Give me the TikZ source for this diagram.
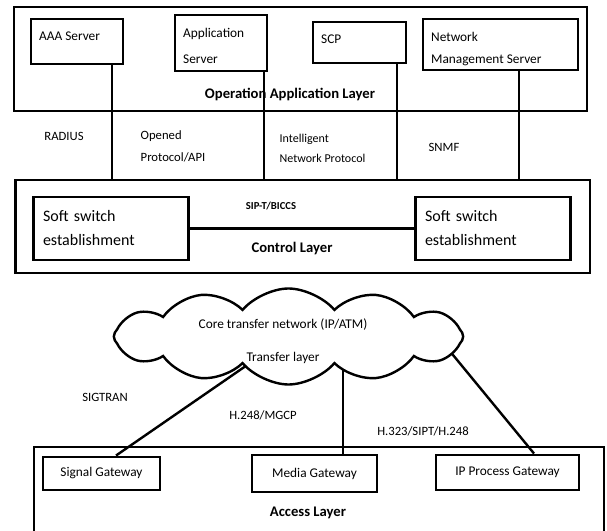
\documentclass[tikz,border=0pt]{standalone}
\usepackage{fontspec}
\setmainfont{Carlito}
\usetikzlibrary{shapes.symbols,backgrounds}
\begin{document}
\begin{tikzpicture}[x=0.75pt,y=-0.75pt,
	layerbox/.style={shape=rectangle,draw,line width=1.6pt,inner sep=0pt},
	srvbox/.style={shape=rectangle,draw,line width=2.2pt,inner sep=0pt},
	srvtext/.style={anchor=north west,inner xsep=7pt,inner ysep=10.5pt,align=left,font=\fontsize{10}{20}\selectfont},
	swbox/.style={srvbox,minimum width=115.5pt,minimum height=47.25pt,text width=102pt,inner xsep=7pt,align=left,font=\fontsize{12}{18}\selectfont},
	gwbox/.style={srvbox,font=\fontsize{10}{12}\selectfont},
	lyrtext/.style={font=\bfseries\fontsize{11}{13}\selectfont},
	prottext/.style={align=left,font=\fontsize{9.5}{16}\selectfont},
	conn/.style={line width=1.8pt}]
	\useasboundingbox (0,0) rectangle (607,531);
	\node[layerbox,minimum width=429.75pt,minimum height=78pt](op) at (300.5,59){};
	\node[srvbox,minimum width=69pt,minimum height=33.75pt,label={[srvtext]north west:AAA Server}](aaa) at (77,41.5){};
	\node[srvbox,minimum width=69pt,minimum height=42pt,label={[srvtext]north west:Application\\Server}](app) at (221,43){};
	\node[srvbox,minimum width=69.75pt,minimum height=30.75pt,label={[srvtext]north west:SCP}](scp) at (359.5,42.5){};
	\node[srvbox,minimum width=116.25pt,minimum height=38.25pt,label={[srvtext,font=\fontsize{10}{17}\selectfont]north west:Network\\Management Server}](nms) at (500.5,44.5){};
	\node[lyrtext](optext) at (290,94){Operation Application Layer};
	\node[layerbox,minimum width=430.9pt,minimum height=69.75pt](ctrl) at (302.75,226.5){};
	\node[swbox](ss1) at (111,228.5){Soft switch\\establishment};
	\node[swbox](ss2) at (493,228.5){Soft switch\\establishment};
	\node[lyrtext,font=\bfseries\fontsize{8}{10}\selectfont](sip) at (271,206){SIP-T/BICCS};
	\node[lyrtext](ctrltext) at (292,249){Control Layer};
	\node[prottext](radius) at (64,136){RADIUS};
	\node[prottext,anchor=west](api) at (136,146.5){Opened\\Protocol/API};
	\node[prottext,anchor=west,font=\fontsize{9}{15}\selectfont](inp) at (275,148){Intelligent\\Network Protocol};
	\node[prottext](snmf) at (444,147){SNMF};
	\draw[conn] ([xshift=26.25pt]aaa.south) -- ([xshift=26.25pt]aaa.south |- ctrl.north);
	\draw[conn] ([xshift=32.25pt]app.south) -- ([xshift=32.25pt]app.south |- ctrl.north);
	\draw[conn] ([xshift=28.1pt]scp.south) -- ([xshift=28.1pt]scp.south |- ctrl.north);
	\draw[conn] ([xshift=13.9pt]nms.south) -- ([xshift=13.9pt]nms.south |- ctrl.north);
	\draw[conn] (ss1) -- (ss2);
	\node[cloud,draw,line width=1.8pt,fill=white,cloud puffs=12,cloud puff arc=100,cloud ignores aspect,minimum width=262pt,minimum height=72pt](core) at (288.5,336.5){};
	\node[prottext,font=\fontsize{10}{12}\selectfont](coretext) at (283,325){Core transfer network (IP/ATM)};
	\node[prottext,font=\fontsize{10}{12}\selectfont](trtext) at (283,358){Transfer layer};
	\node[layerbox,minimum width=427.5pt,minimum height=66pt](acc) at (319,491){};
	\node[gwbox,minimum width=87.75pt,minimum height=24.75pt](sg) at (101.5,473.5){Signal Gateway};
	\node[gwbox,minimum width=93.75pt,minimum height=27.75pt](mg) at (314.5,473.5){Media Gateway};
	\node[gwbox,minimum width=107.25pt,minimum height=26.25pt](ipg) at (507.5,472.5){IP Process Gateway};
	\node[lyrtext](acctext) at (308,513){Access Layer};
	\node[prottext](sigtran) at (105,397){SIGTRAN};
	\node[prottext](mgcp) at (263,415){H.248/MGCP};
	\node[prottext](h323) at (423,431){H.323/SIPT/H.248};
	\coordinate (ipend) at (430,327);
	\begin{scope}[on background layer]
	\draw[conn] ([xshift=10.9pt]sg.north) -- (core.center);
	\draw[conn] ([xshift=21.4pt]mg.north) -- ([xshift=21.4pt]mg.north |- core.center);
	\draw[conn] ([xshift=19.9pt]ipg.north) -- (ipend);
	\end{scope}
\end{tikzpicture}
\end{document}
